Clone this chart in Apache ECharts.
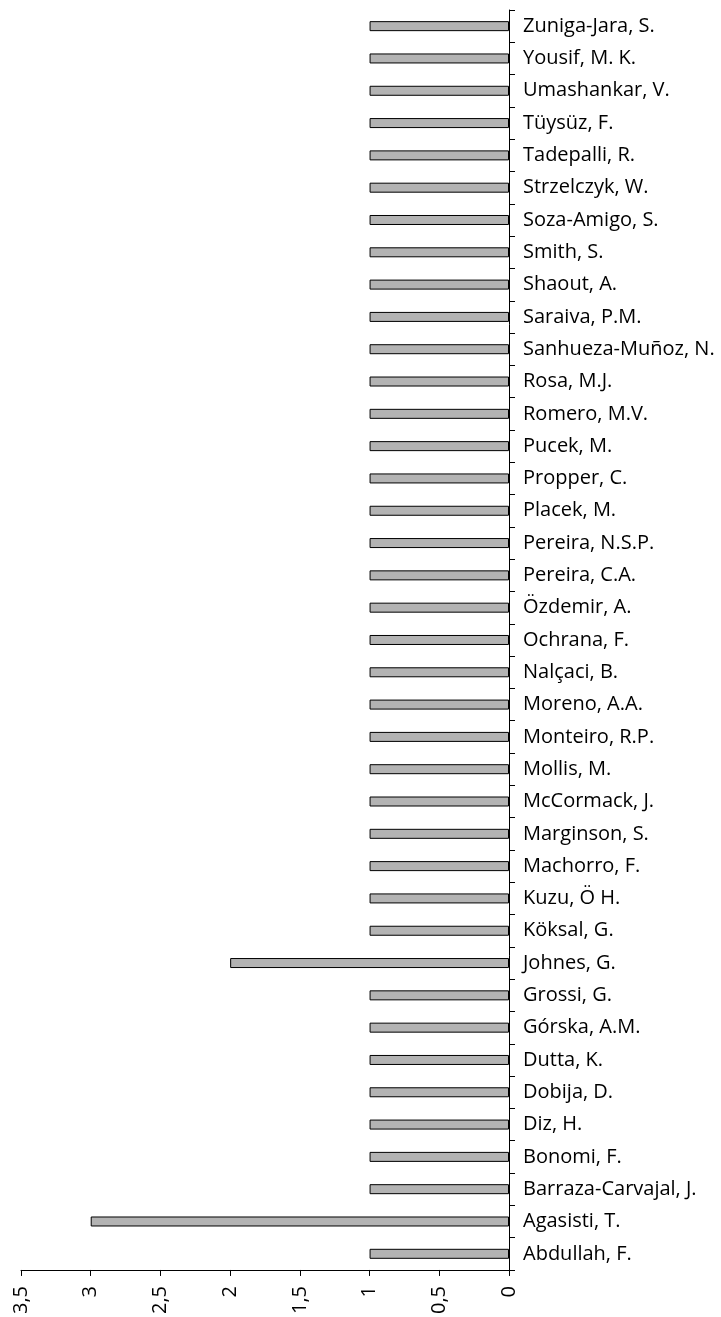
<!DOCTYPE html>
<html>
<head>
<meta charset="utf-8">
<script src="https://cdn.jsdelivr.net/npm/echarts@6/dist/echarts.min.js"></script>
<style>
  html, body { margin: 0; padding: 0; background: #fff; }
  #chart { width: 721px; height: 1317px; }
</style>
</head>
<body>
<div id="chart"></div>
<script>
// autores, de baixo para cima
var authors = [
    "Abdullah, F.", "Agasisti, T.", "Barraza-Carvajal, J.", "Bonomi, F.", "Diz, H.",
    "Dobija, D.", "Dutta, K.", "Górska, A.M.", "Grossi, G.", "Johnes, G.",
    "Köksal, G.", "Kuzu, Ö H.", "Machorro, F.", "Marginson, S.", "McCormack, J.",
    "Mollis, M.", "Monteiro, R.P.", "Moreno, A.A.", "Nalçaci, B.", "Ochrana, F.",
    "Özdemir, A.", "Pereira, C.A.", "Pereira, N.S.P.", "Placek, M.", "Propper, C.",
    "Pucek, M.", "Romero, M.V.", "Rosa, M.J.", "Sanhueza-Muñoz, N.", "Saraiva, P.M.",
    "Shaout, A.", "Smith, S.", "Soza-Amigo, S.", "Strzelczyk, W.", "Tadepalli, R.",
    "Tüysüz, F.", "Umashankar, V.", "Yousif, M. K.", "Zuniga-Jara, S."
];
var counts = [
    1, 3, 1, 1, 1,
    1, 1, 1, 1, 2,
    1, 1, 1, 1, 1,
    1, 1, 1, 1, 1,
    1, 1, 1, 1, 1,
    1, 1, 1, 1, 1,
    1, 1, 1, 1, 1,
    1, 1, 1, 1
];

var chartView = echarts.init(document.getElementById("chart"));
var font = "'Open Sans', 'Noto Sans', sans-serif";

chartView.setOption({
    animation: false,
    grid: { left: 21, right: 212, top: 10, bottom: 45 },
    xAxis: {
        type: "value",
        inverse: true,
        min: 0, max: 3.5, interval: 0.5,
        axisLine: { show: true, lineStyle: { color: "#000", width: 1 } },
        axisTick: { show: true, length: 6, lineStyle: { color: "#000" } },
        splitLine: { show: false },
        axisLabel: {
            rotate: 90, margin: 16, color: "#000", fontSize: 20, fontFamily: font,
            formatter: function (v) { return String(v).replace(".", ","); }
        }
    },
    yAxis: {
        type: "category",
        position: "right",
        data: authors,
        axisLine: { show: true, lineStyle: { color: "#000", width: 1 } },
        axisTick: { show: true, length: 6, lineStyle: { color: "#000" } },
        axisLabel: { margin: 14, color: "#000", fontSize: 20, fontFamily: font, interval: 0 }
    },
    series: [{
        type: "bar",
        data: counts,
        barWidth: 10,
        itemStyle: { color: "#b3b3b3", borderColor: "#000", borderWidth: 1 }
    }]
});
</script>
</body>
</html>
